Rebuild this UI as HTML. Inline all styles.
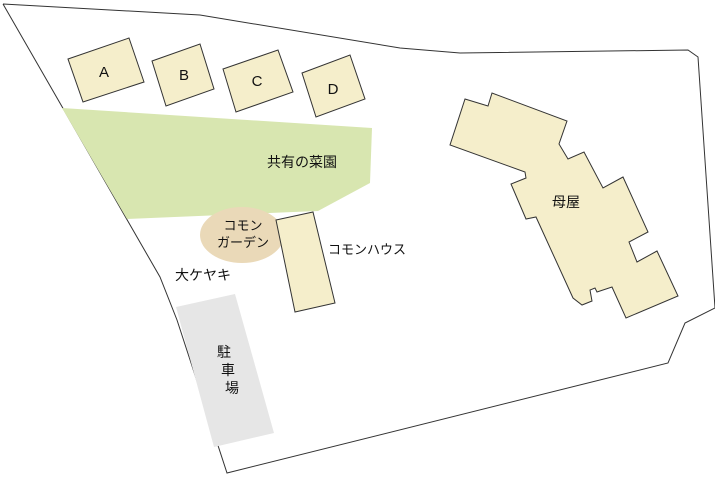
<!DOCTYPE html>
<html><head><meta charset="utf-8"><style>
html,body{margin:0;padding:0;background:#fff;}
svg text{font-family:"Liberation Sans","Noto Sans CJK JP",sans-serif;fill:#111;}
</style></head><body>
<svg width="715" height="478" viewBox="0 0 715 478" xmlns="http://www.w3.org/2000/svg">
<polyline points="3,4 200,15 400,48 460,53 688,50 698,57 715,308 685,323 668,363 227,473 177,320 160,277 3,4" fill="#fff" stroke="#333" stroke-width="1"/>
<polygon points="62,108 372,128 370,183 318,211 127,219" fill="#d8e6b0"/>
<polygon points="176,307 235,294 274,433 214,447" fill="#e6e6e6"/>
<ellipse cx="242" cy="235" rx="42" ry="28" fill="#ead9b8"/>
<g fill="#f5eecb" stroke="#333" stroke-width="1">
<polygon points="68,59 129,38 144,82 83,102"/>
<polygon points="152,61 200,44 214,89 166,106"/>
<polygon points="223,69 278,50 293,92 236,112"/>
<polygon points="302,73 350,55 365,99 316,117"/>
<polygon points="276,220 313,212 335,303 295,312"/>
<polygon points="465,99 488,106 492,93 567,121 559,144 568,159 584,152 603,188 623,177 648,232 629,242 637,262 657,251 678,296 626,318 612,287 597,292 595,288 590,290 592,301 582,305 573,298 536,217 526,219 511,184 526,178 525,172 450,145"/>
</g>
<text x="104" y="77" font-size="15" text-anchor="middle">A</text>
<text x="184" y="80" font-size="15" text-anchor="middle">B</text>
<text x="257" y="86" font-size="15" text-anchor="middle">C</text>
<text x="333" y="94" font-size="15" text-anchor="middle">D</text>
<text x="302" y="167" font-size="14" text-anchor="middle">共有の菜園</text>
<text x="243" y="230" font-size="13" text-anchor="middle">コモン</text>
<text x="243" y="247" font-size="13" text-anchor="middle">ガーデン</text>
<text x="328" y="254" font-size="13">コモンハウス</text>
<text x="203" y="280" font-size="14" text-anchor="middle">大ケヤキ</text>
<text x="566" y="207" font-size="14" text-anchor="middle">母屋</text>
<text x="224" y="357" font-size="14" text-anchor="middle">駐</text>
<text x="228" y="375" font-size="14" text-anchor="middle">車</text>
<text x="232" y="393" font-size="14" text-anchor="middle">場</text>
</svg>
</body></html>
